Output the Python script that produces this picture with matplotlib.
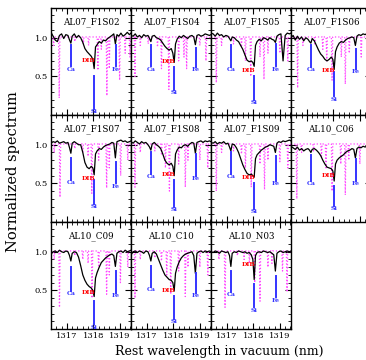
import matplotlib.pyplot as plt
from matplotlib.ticker import MultipleLocator, FormatStrFormatter

plt.rcParams['font.family'] = ['DejaVu Serif']

# wavelength grid (nm) shared by all observed spectra
WL = [1316.40, 1316.48, 1316.56, 1316.64, 1316.72, 1316.80, 1316.88, 1316.96,
      1317.04, 1317.10, 1317.15, 1317.20, 1317.28, 1317.36, 1317.44, 1317.52,
      1317.60, 1317.68, 1317.76, 1317.84, 1317.92, 1317.98, 1318.03, 1318.08,
      1318.14, 1318.22, 1318.30, 1318.38, 1318.46, 1318.54, 1318.62, 1318.70,
      1318.77, 1318.83, 1318.89, 1318.96, 1319.04, 1319.12, 1319.20, 1319.28,
      1319.36, 1319.42]

names = ["AL07_F1S02", "AL07_F1S04", "AL07_F1S05", "AL07_F1S06",
         "AL07_F1S07", "AL07_F1S08", "AL07_F1S09", "AL10_C06",
         "AL10_C09", "AL10_C10", "AL10_N03"]

# normalized observed spectra
f_s02 = [1.07, 1.02, 0.97, 0.95, 1.03, 1.05, 0.99, 1.04, 1.03, 0.97, 0.93, 1.02, 1.05, 1.00,
         1.03, 1.00, 0.94, 0.86, 0.82, 0.79, 0.76, 0.72, 0.60, 0.88, 0.91, 0.95, 0.93, 0.97,
         0.96, 0.99, 1.01, 1.03, 1.05, 0.92, 1.04, 1.02, 1.06, 1.02, 1.04, 1.07, 1.04, 1.06]
f_s04 = [1.03, 1.02, 1.05, 1.01, 1.03, 1.00, 1.04, 1.02, 1.03, 0.99, 0.95, 1.02, 1.03, 1.00,
         0.99, 0.97, 0.93, 0.89, 0.86, 0.84, 0.86, 0.80, 0.68, 0.92, 0.98, 1.02, 1.00, 1.03,
         1.01, 0.99, 1.02, 1.03, 1.01, 0.91, 1.03, 1.04, 1.02, 1.03, 1.05, 1.04, 1.03, 1.04]
f_s05 = [1.06, 1.05, 1.02, 1.06, 1.03, 1.04, 1.01, 1.03, 1.02, 0.99, 0.96, 1.01, 1.00, 0.97,
         0.95, 0.90, 0.85, 0.78, 0.71, 0.69, 0.70, 0.68, 0.63, 0.90, 0.95, 0.98, 0.96, 1.00,
         0.99, 0.97, 1.00, 0.98, 0.97, 0.94, 1.02, 1.04, 1.05, 0.70, 1.03, 1.06, 1.05, 1.06]
f_s06 = [1.00, 1.03, 0.97, 1.02, 0.98, 1.01, 0.96, 1.00, 0.98, 0.95, 0.93, 0.99, 0.96, 0.90,
         0.84, 0.79, 0.76, 0.72, 0.70, 0.72, 0.75, 0.72, 0.59, 0.82, 0.88, 0.93, 0.95, 0.94,
         0.97, 0.99, 1.00, 1.01, 1.00, 0.90, 1.02, 1.04, 1.03, 1.05, 1.04, 1.06, 1.05, 1.06]
f_s07 = [1.02, 1.04, 1.03, 1.05, 1.02, 1.03, 1.04, 1.02, 1.03, 0.96, 0.89, 1.02, 1.04, 1.02,
         1.00, 1.00, 0.90, 0.77, 0.71, 0.69, 0.72, 0.70, 0.61, 0.88, 0.92, 0.95, 0.94, 0.97,
         0.99, 1.00, 1.01, 1.03, 1.02, 0.83, 1.04, 1.05, 1.06, 1.04, 1.05, 1.03, 1.04, 1.05]
f_s08 = [1.04, 1.02, 1.05, 1.03, 1.01, 1.04, 1.02, 1.03, 1.00, 0.97, 0.93, 1.01, 1.03, 1.00,
         0.98, 0.95, 0.88, 0.80, 0.76, 0.74, 0.76, 0.72, 0.60, 0.88, 0.93, 0.97, 0.96, 0.99,
         1.00, 0.98, 1.01, 1.03, 1.02, 0.89, 1.03, 1.04, 1.05, 1.03, 1.05, 1.04, 1.05, 1.04]
f_s09 = [1.03, 1.02, 1.04, 1.01, 1.03, 1.02, 1.04, 1.01, 1.02, 0.97, 0.92, 1.01, 1.00, 0.96,
         0.90, 0.82, 0.74, 0.68, 0.63, 0.61, 0.62, 0.60, 0.58, 0.82, 0.87, 0.90, 0.93, 0.95,
         0.97, 0.98, 1.00, 0.99, 0.98, 0.90, 1.02, 1.04, 1.03, 1.05, 1.04, 1.05, 1.06, 1.05]
f_c06 = [0.98, 0.96, 0.94, 0.97, 0.93, 0.95, 0.92, 0.94, 0.95, 0.93, 0.90, 0.94, 0.95, 0.93,
         0.90, 0.86, 0.80, 0.75, 0.71, 0.70, 0.69, 0.66, 0.53, 0.75, 0.80, 0.83, 0.85, 0.87,
         0.90, 0.92, 0.93, 0.95, 0.94, 0.83, 0.95, 0.97, 0.96, 0.98, 0.97, 0.99, 0.98, 0.99]
f_c09 = [0.97, 1.00, 1.01, 0.99, 1.02, 1.00, 0.99, 1.01, 1.00, 0.95, 0.88, 0.98, 1.00, 0.99,
         0.93, 0.82, 0.70, 0.63, 0.58, 0.55, 0.53, 0.50, 0.42, 0.66, 0.73, 0.80, 0.86, 0.89,
         0.92, 0.94, 0.96, 0.97, 0.95, 0.81, 0.98, 1.00, 1.01, 0.99, 1.02, 1.00, 1.01, 1.02]
f_c10 = [0.96, 1.00, 1.01, 0.99, 1.01, 1.00, 0.98, 1.01, 1.00, 0.95, 0.88, 0.98, 1.00, 0.97,
         0.90, 0.83, 0.76, 0.70, 0.67, 0.64, 0.63, 0.60, 0.49, 0.72, 0.80, 0.87, 0.92, 0.95,
         0.97, 0.98, 0.99, 1.00, 0.95, 0.72, 0.98, 1.00, 1.01, 0.99, 1.01, 1.00, 1.01, 1.00]
f_n03 = [1.00, 0.99, 1.01, 1.00, 0.98, 1.01, 1.00, 0.99, 1.00, 0.95, 0.81, 0.98, 1.00, 0.99,
         1.01, 1.00, 0.99, 1.00, 0.98, 0.99, 0.96, 0.90, 0.64, 0.95, 0.99, 1.00, 0.99, 1.01,
         1.00, 0.99, 1.00, 0.98, 0.96, 0.75, 0.98, 1.00, 1.01, 0.99, 1.00, 1.01, 1.00, 1.01]
spectra = [f_s02, f_s04, f_s05, f_s06, f_s07, f_s08, f_s09, f_c06, f_c09, f_c10, f_n03]

# telluric absorption lines in the rest frame of each star: centres (nm) and minimum flux
tell_c = [
    [1316.50, 1316.71, 1317.30, 1317.62, 1317.82, 1318.17, 1318.30, 1318.51, 1318.60, 1318.99, 1319.20, 1319.38],
    [1316.55, 1316.75, 1317.05, 1317.40, 1317.55, 1317.83, 1318.20, 1318.40, 1318.50, 1319.00, 1319.23],
    [1316.60, 1316.80, 1317.25, 1317.55, 1317.70, 1317.90, 1318.25, 1318.40, 1318.55, 1319.00, 1319.30],
    [1316.65, 1316.85, 1317.30, 1317.60, 1317.75, 1317.95, 1318.30, 1318.45, 1318.60, 1319.05, 1319.35],
    [1316.52, 1316.74, 1317.30, 1317.60, 1317.80, 1317.94, 1318.20, 1318.50, 1318.60, 1319.03, 1319.30],
    [1316.55, 1316.75, 1317.30, 1317.55, 1317.70, 1317.85, 1318.20, 1318.45, 1318.55, 1319.00, 1319.30],
    [1316.60, 1316.80, 1317.25, 1317.55, 1317.70, 1317.92, 1318.25, 1318.42, 1318.55, 1319.00, 1319.30],
    [1316.62, 1316.80, 1317.25, 1317.55, 1317.72, 1317.95, 1318.28, 1318.45, 1318.58, 1319.00, 1319.30],
    [1316.52, 1316.72, 1317.30, 1317.60, 1317.80, 1317.95, 1318.20, 1318.50, 1318.60, 1319.02, 1319.30],
    [1316.55, 1316.75, 1317.30, 1317.55, 1317.75, 1317.90, 1318.20, 1318.45, 1318.55, 1319.00, 1319.30],
    [1316.70, 1316.93, 1317.40, 1317.65, 1317.85, 1318.05, 1318.25, 1318.55, 1318.70, 1319.10, 1319.27],
]
tell_d = [
    [0.90, 0.22, 0.95, 0.92, 0.90, 0.58, 0.85, 0.25, 0.60, 0.45, 0.80, 0.75],
    [0.50, 0.90, 0.92, 0.88, 0.60, 0.33, 0.70, 0.75, 0.60, 0.90, 0.70],
    [0.42, 0.90, 0.92, 0.88, 0.70, 0.50, 0.75, 0.46, 0.80, 0.80, 0.70],
    [0.35, 0.90, 0.92, 0.85, 0.70, 0.45, 0.75, 0.40, 0.80, 0.75, 0.70],
    [0.90, 0.32, 0.95, 0.90, 0.85, 0.37, 0.80, 0.44, 0.70, 0.60, 0.80],
    [0.45, 0.90, 0.92, 0.88, 0.70, 0.40, 0.75, 0.45, 0.80, 0.80, 0.70],
    [0.40, 0.90, 0.92, 0.88, 0.70, 0.45, 0.75, 0.42, 0.80, 0.78, 0.70],
    [0.30, 0.90, 0.92, 0.85, 0.70, 0.40, 0.75, 0.35, 0.80, 0.75, 0.70],
    [0.90, 0.28, 0.95, 0.90, 0.85, 0.40, 0.80, 0.45, 0.70, 0.60, 0.80],
    [0.40, 0.90, 0.92, 0.88, 0.70, 0.45, 0.75, 0.42, 0.80, 0.80, 0.70],
    [0.90, 0.28, 0.95, 0.90, 0.85, 0.60, 0.36, 0.80, 0.85, 0.75, 0.48],
]

# identified stellar lines and the vertical extent of their markers
line_wl = {"Ca": 1317.15, "Si": 1318.04, "Fe": 1318.84}
ca_top = [0.90, 0.90, 0.90, 0.90, 0.83, 0.90, 0.90, 0.87, 0.80, 0.81, 0.75]
ca_bot = [0.63, 0.63, 0.62, 0.62, 0.55, 0.62, 0.62, 0.53, 0.49, 0.54, 0.48]
si_top = [0.50, 0.62, 0.50, 0.56, 0.55, 0.55, 0.51, 0.47, 0.36, 0.43, 0.58]
si_bot = [0.08, 0.32, 0.20, 0.24, 0.23, 0.20, 0.17, 0.21, 0.06, 0.13, 0.28]
fe_top = [0.90, 0.87, 0.92, 0.85, 0.78, 0.88, 0.85, 0.81, 0.75, 0.73, 0.68]
fe_bot = [0.63, 0.62, 0.63, 0.60, 0.50, 0.60, 0.53, 0.53, 0.47, 0.47, 0.41]
dib_y = [0.70, 0.69, 0.58, 0.58, 0.56, 0.62, 0.58, 0.60, 0.47, 0.50, 0.84]

XMIN, XMAX = 1316.40, 1319.42
YMIN, YMAX = 0.0, 1.385

fig = plt.figure(figsize=(3.66, 3.60), dpi=100)
W, H = 366.0, 360.0
pw, ph = 80.0, 107.0
blue = '#3434ff'

for i, name in enumerate(names):
    r, c = divmod(i, 4)
    x0 = 51 + pw * c
    y0 = 8 + ph * (r + 1)
    ax = fig.add_axes([x0 / W, 1 - y0 / H, pw / W, ph / H])

    # telluric model
    tx, ty = [XMIN], [1.0]
    for cc, dd in zip(tell_c[i], tell_d[i]):
        tx += [cc - 0.025, cc, cc + 0.025]
        ty += [1.01, dd, 1.01]
    tx.append(XMAX)
    ty.append(1.0)
    ax.plot(tx, ty, color='#ff44ff', lw=0.9, ls=(0, (1, 1.6)), zorder=2)

    ax.plot(WL, spectra[i], color='black', lw=0.9, zorder=3)

    for lab, top, bot in (("Ca", ca_top[i], ca_bot[i]),
                          ("Si", si_top[i], si_bot[i]),
                          ("Fe", fe_top[i], fe_bot[i])):
        x = line_wl[lab]
        ax.plot([x, x], [top, bot], color=blue, lw=1.4, zorder=4)
        ax.text(x, bot - 0.035, lab, color=blue, fontsize=4.5, fontweight='bold',
                ha='center', va='center', zorder=5)
    ax.text(1317.80, dib_y[i], "DIB", color='red', fontsize=4.5, fontweight='bold',
            ha='center', va='center', zorder=5)

    ax.text(0.5, 0.87, name, transform=ax.transAxes, ha='center', va='center',
            fontsize=6.3)

    ax.set_xlim(XMIN, XMAX)
    ax.set_ylim(YMIN, YMAX)
    ax.xaxis.set_major_locator(MultipleLocator(1))
    ax.xaxis.set_minor_locator(MultipleLocator(0.2))
    ax.yaxis.set_major_locator(MultipleLocator(0.5))
    ax.yaxis.set_minor_locator(MultipleLocator(0.1))
    ax.yaxis.set_major_formatter(FormatStrFormatter('%.1f'))
    ax.tick_params(which='both', direction='in', top=True, right=True, labelsize=6, pad=2)
    ax.tick_params(which='major', length=4, width=0.8)
    ax.tick_params(which='minor', length=2, width=0.6)
    for sp in ax.spines.values():
        sp.set_linewidth(1.0)

    if c != 0:
        ax.set_yticklabels([])
    else:
        ax.set_yticks([0.5, 1.0])
        ax.set_yticks([0.1, 0.2, 0.3, 0.4, 0.6, 0.7, 0.8, 0.9, 1.1, 1.2, 1.3], minor=True)
    if r != 2:
        ax.set_xticklabels([])

fig.text(13 / W, 1 - 172 / H, "Normalized spectrum", rotation=90, ha='center', va='center',
         fontsize=10.5)
fig.text(219 / W, 1 - 351 / H, "Rest wavelength in vacuum (nm)", ha='center', va='center',
         fontsize=9)

fig.savefig("out.png", dpi=100)
